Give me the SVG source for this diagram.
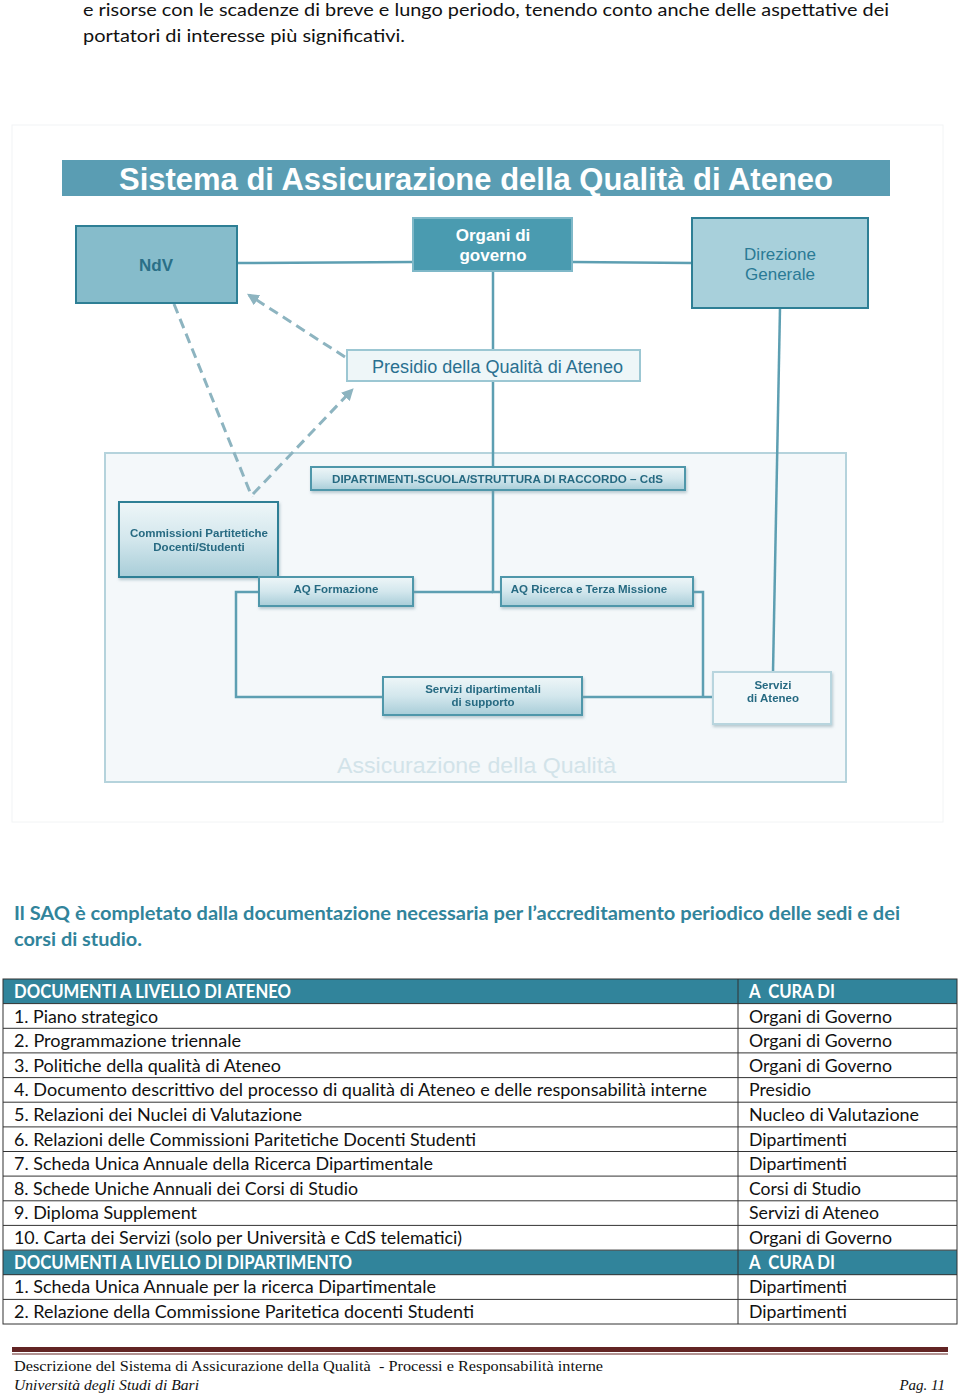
<svg xmlns="http://www.w3.org/2000/svg" width="960" height="1394" viewBox="0 0 960 1394">
<defs>
<style>
.body{font-family:Lato,"Open Sans","Liberation Sans",sans-serif;font-size:18px;fill:#111}
.bold{font-weight:bold}
.hd{font-family:Lato,"Open Sans","Liberation Sans",sans-serif;font-size:18px;fill:#fff;font-weight:bold;white-space:pre}
.dg{font-family:"Liberation Sans",Arial,sans-serif}
.gbox{fill:url(#g1);stroke:#4f97aa;stroke-width:2}
.gtxt{font-family:"Liberation Sans",Arial,sans-serif;font-weight:bold;font-size:11.5px;fill:#276a82}
.mid{text-anchor:middle}
.conn{fill:none;stroke:#5d9fb2;stroke-width:2.5}
.dash{fill:none;stroke:#8db4c0;stroke-width:3;stroke-dasharray:10 6}
.grid{stroke:#333;stroke-width:1}
.ft{font-family:"Liberation Serif","DejaVu Serif",serif;font-size:15px;fill:#111;white-space:pre}
</style>
<linearGradient id="g1" x1="0" y1="0" x2="0" y2="1">
<stop offset="0" stop-color="#eef6f8"/>
<stop offset="0.5" stop-color="#d3e7ed"/>
<stop offset="1" stop-color="#a8cdd8"/>
</linearGradient>
<filter id="sh" x="-10%" y="-10%" width="130%" height="140%">
<feDropShadow dx="1" dy="2" stdDeviation="1.5" flood-color="#7a9aa5" flood-opacity="0.5"/>
</filter>
<marker id="ah" viewBox="0 0 10 10" refX="8" refY="5" markerWidth="4" markerHeight="4" orient="auto">
<path d="M0,0 L10,5 L0,10 z" fill="#8db4c0"/>
</marker>
</defs>
<rect width="960" height="1394" fill="#fff"/>

<text class="body" x="83" y="16" textLength="806" lengthAdjust="spacingAndGlyphs">e risorse con le scadenze di breve e lungo periodo, tenendo conto anche delle aspettative dei</text>
<text class="body" x="83" y="42" textLength="322" lengthAdjust="spacingAndGlyphs">portatori di interesse più significativi.</text>

<!-- diagram -->
<rect x="12" y="125" width="931" height="697" fill="#fff" stroke="#f2f4f5" stroke-width="1"/>
<rect x="62" y="160" width="828" height="36" fill="#5a9db3"/>
<text class="dg" x="119" y="190" font-size="31" font-weight="bold" fill="#fff" textLength="714" lengthAdjust="spacingAndGlyphs">Sistema di Assicurazione della Qualità di Ateneo</text>

<rect x="105" y="453" width="741" height="329" fill="#f4f8fa" stroke="#b5d3dc" stroke-width="2"/>
<text class="dg" x="337" y="773" font-size="22" fill="#d2e3e9" textLength="279" lengthAdjust="spacingAndGlyphs">Assicurazione della Qualità</text>

<g id="connectors">
<line class="conn" x1="237" y1="263" x2="413" y2="262"/>
<line class="conn" x1="572" y1="262" x2="692" y2="263"/>
<line class="conn" x1="493" y1="271" x2="493" y2="467"/>
<polyline class="conn" points="493,490 493,592 501,592"/>
<line class="conn" x1="413" y1="592" x2="493" y2="592"/>
<line class="conn" x1="780" y1="308" x2="773" y2="672"/>
<polyline class="conn" points="259,592 236,592 236,697 383,697"/>
<polyline class="conn" points="693,592 703,592 703,697"/>
<line class="conn" x1="582" y1="697" x2="713" y2="697"/>
<line class="dash" x1="345" y1="357" x2="249" y2="295" marker-end="url(#ah)"/>
<line class="dash" x1="174" y1="304" x2="252" y2="497"/>
<line class="dash" x1="253" y1="494" x2="352" y2="390" marker-end="url(#ah)"/>
</g>

<g id="ndv">
<rect x="76" y="226" width="161" height="77" fill="#86bccb" stroke="#2e7f95" stroke-width="2"/>
<text class="dg" x="156" y="271" font-size="17" font-weight="bold" fill="#2a6f87" text-anchor="middle">NdV</text>
</g>
<g id="organi">
<rect x="413" y="218" width="159" height="53" fill="#4a9bb0" stroke="#7fb8c8" stroke-width="2"/>
<text class="dg" x="493" y="241" font-size="17" font-weight="bold" fill="#fff" text-anchor="middle">Organi di</text>
<text class="dg" x="493" y="261" font-size="17" font-weight="bold" fill="#fff" text-anchor="middle">governo</text>
</g>
<g id="direzione">
<rect x="692" y="218" width="176" height="90" fill="#a8d0db" stroke="#2e7f95" stroke-width="2"/>
<text class="dg" x="780" y="260" font-size="17" fill="#2a7a95" text-anchor="middle">Direzione</text>
<text class="dg" x="780" y="280" font-size="17" fill="#2a7a95" text-anchor="middle">Generale</text>
</g>
<g id="presidio">
<rect x="347" y="350" width="293" height="31" fill="#eef6f8" stroke="#9cc7d3" stroke-width="2"/>
<text class="dg" x="372" y="373" font-size="18" fill="#2a7090" textLength="251" lengthAdjust="spacingAndGlyphs">Presidio della Qualità di Ateneo</text>
</g>
<g id="dipartimenti" filter="url(#sh)">
<rect class="gbox" x="311" y="467" width="374" height="23"/>
<text class="gtxt" x="332" y="483" textLength="331" lengthAdjust="spacingAndGlyphs">DIPARTIMENTI-SCUOLA/STRUTTURA DI RACCORDO – CdS</text>
</g>
<g id="commissioni" filter="url(#sh)">
<rect x="119" y="502" width="159" height="75" fill="url(#g1)" stroke="#2e7f95" stroke-width="2"/>
<text class="gtxt mid" x="199" y="537">Commissioni Partitetiche</text>
<text class="gtxt mid" x="199" y="551">Docenti/Studenti</text>
</g>
<g id="aqformazione" filter="url(#sh)">
<rect class="gbox" x="259" y="577" width="154" height="29"/>
<text class="gtxt mid" x="336" y="593">AQ Formazione</text>
</g>
<g id="aqricerca" filter="url(#sh)">
<rect class="gbox" x="501" y="577" width="192" height="29"/>
<text class="gtxt mid" x="589" y="593">AQ Ricerca e Terza Missione</text>
</g>
<g id="servizidip" filter="url(#sh)">
<rect class="gbox" x="383" y="677" width="199" height="38"/>
<text class="gtxt mid" x="483" y="693">Servizi dipartimentali</text>
<text class="gtxt mid" x="483" y="706">di supporto</text>
</g>
<g id="serviziateneo" filter="url(#sh)">
<rect x="713" y="672" width="118" height="52" fill="#f3f8fa" stroke="#b8d5de" stroke-width="2"/>
<text class="gtxt mid" x="773" y="689">Servizi</text>
<text class="gtxt mid" x="773" y="702">di Ateneo</text>
</g>

<text class="body bold" x="14" y="920" style="fill:#31849b" textLength="886" lengthAdjust="spacingAndGlyphs">Il SAQ è completato dalla documentazione necessaria per l’accreditamento periodico delle sedi e dei</text>
<text class="body bold" x="14" y="946" style="fill:#31849b" textLength="128" lengthAdjust="spacingAndGlyphs">corsi di studio.</text>

<!-- table -->
<g id="table">
<rect x="3" y="979" width="954" height="24.6" fill="#31849b"/>
<rect x="3" y="1250.3" width="954" height="24.6" fill="#31849b"/>
<rect x="3" y="979" width="954" height="345" fill="none" stroke="#333" stroke-width="1"/>
<line x1="738" y1="979" x2="738" y2="1324" stroke="#333" stroke-width="1"/>
<g stroke="#333" stroke-width="1">
<line x1="3" y1="1003.6" x2="957" y2="1003.6"/>
<line x1="3" y1="1028.3" x2="957" y2="1028.3"/>
<line x1="3" y1="1052.9" x2="957" y2="1052.9"/>
<line x1="3" y1="1077.6" x2="957" y2="1077.6"/>
<line x1="3" y1="1102.2" x2="957" y2="1102.2"/>
<line x1="3" y1="1126.9" x2="957" y2="1126.9"/>
<line x1="3" y1="1151.5" x2="957" y2="1151.5"/>
<line x1="3" y1="1176.1" x2="957" y2="1176.1"/>
<line x1="3" y1="1200.8" x2="957" y2="1200.8"/>
<line x1="3" y1="1225.4" x2="957" y2="1225.4"/>
<line x1="3" y1="1250.1" x2="957" y2="1250.1"/>
<line x1="3" y1="1274.7" x2="957" y2="1274.7"/>
<line x1="3" y1="1299.4" x2="957" y2="1299.4"/>
</g>
<text class="hd" x="14" y="998" textLength="277" lengthAdjust="spacingAndGlyphs">DOCUMENTI A LIVELLO DI ATENEO</text>
<text class="hd" x="749" y="998" textLength="86" lengthAdjust="spacingAndGlyphs">A  CURA DI</text>
<text class="body" x="14" y="1023" textLength="144" lengthAdjust="spacingAndGlyphs">1. Piano strategico</text>
<text class="body" x="749" y="1023" textLength="143" lengthAdjust="spacingAndGlyphs">Organi di Governo</text>
<text class="body" x="14" y="1047" textLength="227" lengthAdjust="spacingAndGlyphs">2. Programmazione triennale</text>
<text class="body" x="749" y="1047" textLength="143" lengthAdjust="spacingAndGlyphs">Organi di Governo</text>
<text class="body" x="14" y="1072" textLength="267" lengthAdjust="spacingAndGlyphs">3. Politiche della qualità di Ateneo</text>
<text class="body" x="749" y="1072" textLength="143" lengthAdjust="spacingAndGlyphs">Organi di Governo</text>
<text class="body" x="14" y="1096" textLength="693" lengthAdjust="spacingAndGlyphs">4. Documento descrittivo del processo di qualità di Ateneo e delle responsabilità interne</text>
<text class="body" x="749" y="1096" textLength="62" lengthAdjust="spacingAndGlyphs">Presidio</text>
<text class="body" x="14" y="1121" textLength="288" lengthAdjust="spacingAndGlyphs">5. Relazioni dei Nuclei di Valutazione</text>
<text class="body" x="749" y="1121" textLength="170" lengthAdjust="spacingAndGlyphs">Nucleo di Valutazione</text>
<text class="body" x="14" y="1146" textLength="462" lengthAdjust="spacingAndGlyphs">6. Relazioni delle Commissioni Paritetiche Docenti Studenti</text>
<text class="body" x="749" y="1146" textLength="98" lengthAdjust="spacingAndGlyphs">Dipartimenti</text>
<text class="body" x="14" y="1170" textLength="419" lengthAdjust="spacingAndGlyphs">7. Scheda Unica Annuale della Ricerca Dipartimentale</text>
<text class="body" x="749" y="1170" textLength="98" lengthAdjust="spacingAndGlyphs">Dipartimenti</text>
<text class="body" x="14" y="1195" textLength="344" lengthAdjust="spacingAndGlyphs">8. Schede Uniche Annuali dei Corsi di Studio</text>
<text class="body" x="749" y="1195" textLength="112" lengthAdjust="spacingAndGlyphs">Corsi di Studio</text>
<text class="body" x="14" y="1219" textLength="183" lengthAdjust="spacingAndGlyphs">9. Diploma Supplement</text>
<text class="body" x="749" y="1219" textLength="130" lengthAdjust="spacingAndGlyphs">Servizi di Ateneo</text>
<text class="body" x="14" y="1244" textLength="448" lengthAdjust="spacingAndGlyphs">10. Carta dei Servizi (solo per Università e CdS telematici)</text>
<text class="body" x="749" y="1244" textLength="143" lengthAdjust="spacingAndGlyphs">Organi di Governo</text>
<text class="hd" x="14" y="1269" textLength="338" lengthAdjust="spacingAndGlyphs">DOCUMENTI A LIVELLO DI DIPARTIMENTO</text>
<text class="hd" x="749" y="1269" textLength="86" lengthAdjust="spacingAndGlyphs">A  CURA DI</text>
<text class="body" x="14" y="1293" textLength="422" lengthAdjust="spacingAndGlyphs">1. Scheda Unica Annuale per la ricerca Dipartimentale</text>
<text class="body" x="749" y="1293" textLength="98" lengthAdjust="spacingAndGlyphs">Dipartimenti</text>
<text class="body" x="14" y="1318" textLength="460" lengthAdjust="spacingAndGlyphs">2. Relazione della Commissione Paritetica docenti Studenti</text>
<text class="body" x="749" y="1318" textLength="98" lengthAdjust="spacingAndGlyphs">Dipartimenti</text>
</g>

<!-- footer -->
<rect x="12" y="1347" width="936" height="5" fill="#622423"/>
<line x1="12" y1="1354" x2="948" y2="1354" stroke="#622423" stroke-width="1"/>
<text class="ft" x="14" y="1371" textLength="589" lengthAdjust="spacingAndGlyphs">Descrizione del Sistema di Assicurazione della Qualità  - Processi e Responsabilità interne</text>
<text class="ft" x="14" y="1390" font-style="italic" textLength="185" lengthAdjust="spacingAndGlyphs">Università degli Studi di Bari</text>
<text class="ft" x="945" y="1390" font-style="italic" text-anchor="end">Pag. 11</text>
</svg>
